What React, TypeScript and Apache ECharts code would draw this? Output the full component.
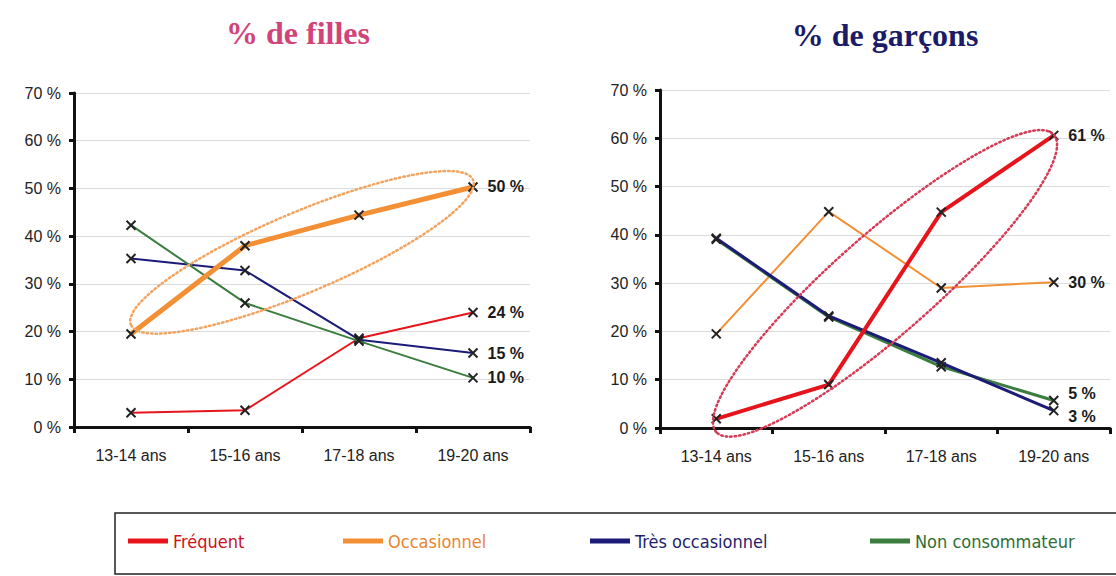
import React, { useEffect, useRef } from "react";
import * as echarts from "echarts";

const categories = ["13-14 ans", "15-16 ans", "17-18 ans", "19-20 ans"];
const seriesNames = ["Fréquent", "Occasionnel", "Très occasionnel", "Non consommateur"];

const fillesFrequent = [3, 3.5, 18.6, 24];
const fillesOccasionnel = [19.5, 38, 44.4, 50.3];
const fillesTresOccasionnel = [35.3, 32.8, 18.3, 15.5];
const fillesNonConsommateur = [42.3, 26, 18, 10.3];
const fillesEndLabels = ["24 %", "50 %", "15 %", "10 %"];

const garconsFrequent = [1.9, 9, 44.7, 60.6];
const garconsOccasionnel = [19.5, 44.8, 29, 30.2];
const garconsTresOccasionnel = [39.3, 23.2, 13.5, 3.6];
const garconsNonConsommateur = [39.1, 23, 12.7, 5.7];
const garconsEndLabels = ["61 %", "30 %", "3 %", "5 %"];

const yMin = 0;
const yMax = 70;
const yInterval = 10;

const titles = ["% de filles", "% de garçons"];

// annotation ellipses, in data space: [category index, value]
const ellipseFilles = { from: [-0.05, 21.4], to: [3.04, 51.8], ry: 40 };
const ellipseGarcons = { from: [-0.01, -0.8], to: [3.07, 60.7], ry: 50 };

const lineColors = ["#e8141c", "#f39035", "#1c1c78", "#3b7d3e"];
const legendTextColors = ["#cc1020", "#e8862e", "#1f1f6b", "#2f6e36"];
const AXIS_FONT = "'Liberation Sans', Arial, sans-serif";
const NARROW_FONT = "'Liberation Sans Narrow', 'Arial Narrow', 'DejaVu Sans Condensed', sans-serif";
const SERIF_FONT = "'Liberation Serif', 'Times New Roman', serif";
const CROSS = "path://M0,0L10,10M10,0L0,10";

function App() {
  const ref = useRef<HTMLDivElement>(null);

  useEffect(() => {
    document.body.style.margin = "0";
    const chart = echarts.init(ref.current!, null, { renderer: "svg" });

    const grids = [
      { left: 74, top: 93, width: 456, height: 334 },
      { left: 660, top: 90, width: 450, height: 338 },
    ];

    const xAxis = grids.map((_, i) => ({
      type: "category",
      gridIndex: i,
      data: categories,
      boundaryGap: true,
      axisLine: { lineStyle: { color: "#111", width: 3 } },
      axisTick: { show: true, length: 6, lineStyle: { color: "#111", width: 3 } },
      axisLabel: { color: "#222", fontSize: 16, fontFamily: AXIS_FONT, margin: 20 },
      splitLine: { show: false },
    }));

    const yAxis = grids.map((_, i) => ({
      type: "value",
      gridIndex: i,
      min: yMin,
      max: yMax,
      interval: yInterval,
      axisLine: { show: true, lineStyle: { color: "#111", width: 3 } },
      axisTick: { show: true, length: 5, lineStyle: { color: "#111", width: 3 } },
      axisLabel: {
        color: "#222",
        fontSize: 16,
        fontFamily: AXIS_FONT,
        margin: 13,
        formatter: "{value} %",
      },
      splitLine: { show: true, lineStyle: { color: "#dcdcdc", width: 1 } },
    }));

    const groups = [
      {
        data: [fillesFrequent, fillesOccasionnel, fillesTresOccasionnel, fillesNonConsommateur],
        labels: fillesEndLabels,
        widths: [2, 5, 2, 2],
        z: [3, 6, 4, 5],
        labelOffsets: [[0, 0], [0, 0], [0, 0], [0, 0]],
      },
      {
        data: [garconsFrequent, garconsOccasionnel, garconsTresOccasionnel, garconsNonConsommateur],
        labels: garconsEndLabels,
        widths: [4, 2, 3, 3],
        z: [6, 3, 5, 4],
        labelOffsets: [[0, 0], [0, 0], [0, 6], [0, -7]],
      },
    ];

    const series: any[] = [];
    groups.forEach((g, gi) => {
      g.data.forEach((values, si) => {
        series.push({
          type: "line",
          name: seriesNames[si],
          xAxisIndex: gi,
          yAxisIndex: gi,
          z: g.z[si],
          data: values.map((v, k) =>
            k === values.length - 1
              ? {
                  value: v,
                  label: {
                    show: true,
                    position: "right",
                    distance: 9,
                    offset: g.labelOffsets[si],
                    formatter: g.labels[si],
                    color: "#1a1a1a",
                    fontWeight: "bold",
                    fontSize: 16,
                    fontFamily: AXIS_FONT,
                  },
                }
              : v
          ),
          symbol: CROSS,
          symbolSize: 9,
          showSymbol: true,
          lineStyle: { color: lineColors[si], width: g.widths[si] },
          itemStyle: { color: lineColors[si], borderColor: "#222", borderWidth: 2 },
          emphasis: { disabled: true },
        });
      });
    });

    const legendLefts = [128, 343, 590, 870];
    const legend = seriesNames.map((name, i) => ({
      data: [
        {
          name,
          icon: "rect",
          itemStyle: { color: lineColors[i], borderWidth: 0 },
          textStyle: { color: legendTextColors[i] },
        },
      ],
      left: legendLefts[i],
      top: 532,
      padding: 0,
      itemWidth: 40,
      itemHeight: 5,
      selectedMode: false,
      textStyle: { fontSize: 18, fontFamily: NARROW_FONT },
    }));

    chart.setOption({
      animation: false,
      backgroundColor: "#ffffff",
      grid: grids,
      xAxis,
      yAxis,
      legend,
      series,
    });

    const ellipseFor = (gridIndex: number, e: any, color: string, id: string) => {
      const p0 = chart.convertToPixel({ gridIndex }, e.from) as number[];
      const p1 = chart.convertToPixel({ gridIndex }, e.to) as number[];
      const cx = (p0[0] + p1[0]) / 2;
      const cy = (p0[1] + p1[1]) / 2;
      const dx = p1[0] - p0[0];
      const dy = p0[1] - p1[1];
      const rx = Math.sqrt(dx * dx + dy * dy) / 2;
      const angle = Math.atan2(dy, dx);
      return {
        id,
        type: "ellipse",
        x: cx,
        y: cy,
        rotation: angle,
        z: 20,
        shape: { cx: 0, cy: 0, rx, ry: e.ry },
        style: { fill: "none", stroke: color, lineWidth: 2.5, lineDash: [1.5, 3], lineCap: "round" },
        silent: true,
      };
    };

    chart.setOption({
      graphic: [
        {
          id: "t1",
          type: "text",
          x: 298,
          y: 33,
          style: {
            text: titles[0],
            font: `bold 32px ${SERIF_FONT}`,
            fill: "#d0447a",
            align: "center",
            verticalAlign: "middle",
          },
        },
        {
          id: "t2",
          type: "text",
          x: 885,
          y: 35,
          style: {
            text: titles[1],
            font: `bold 32px ${SERIF_FONT}`,
            fill: "#1b1b68",
            align: "center",
            verticalAlign: "middle",
          },
        },
        {
          id: "legendBox",
          type: "rect",
          z: -1,
          shape: { x: 115, y: 513, width: 1010, height: 61 },
          style: { fill: "#fff", stroke: "#222", lineWidth: 1.5 },
          silent: true,
        },
        ellipseFor(0, ellipseFilles, "#f2a460", "e1"),
        ellipseFor(1, ellipseGarcons, "#d63a55", "e2"),
      ],
    });

    return () => chart.dispose();
  }, []);

  return <div ref={ref} style={{ width: 1116, height: 576 }} />;
}

export default App;
